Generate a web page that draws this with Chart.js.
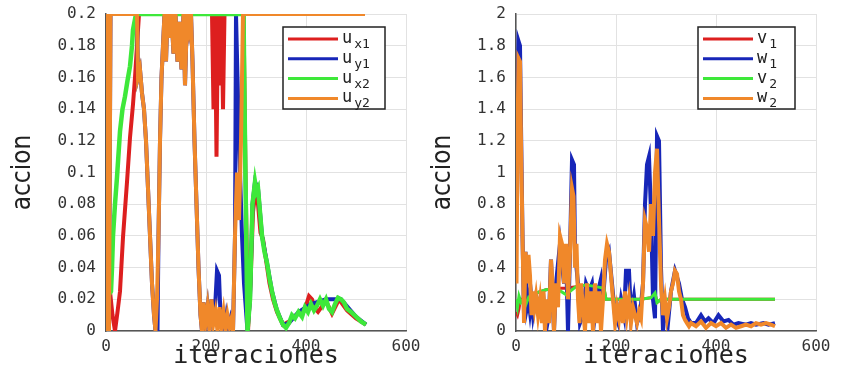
<!DOCTYPE html>
<html>
<head>
<meta charset="utf-8">
<script src="https://cdn.jsdelivr.net/npm/chart.js@4/dist/chart.umd.min.js"></script>
<style>
  body { margin: 0; background: #fff; }
  #wrapL { position: absolute; left: 0; top: 0; width: 420px; height: 379px; }
  #wrapR { position: absolute; left: 420px; top: 0; width: 421px; height: 379px; }
</style>
</head>
<body>
<div id="wrapL"><canvas id="cL" width="420" height="379"></canvas></div>
<div id="wrapR"><canvas id="cR" width="421" height="379"></canvas></div>
<script>
// tick values
const xTicks = [0, 200, 400, 600];
const leftYTicks = [0, 0.02, 0.04, 0.06, 0.08, 0.1, 0.12, 0.14, 0.16, 0.18, 0.2];
const rightYTicks = [0, 0.2, 0.4, 0.6, 0.8, 1, 1.2, 1.4, 1.6, 1.8, 2];

// left panel: u_x1, u_y1, u_x2, u_y2
const ux1X = [0, 8, 13, 18, 23, 28, 34, 42, 48, 54, 58, 62, 66, 212, 215, 218, 221, 224, 228, 231, 234, 237, 275, 279, 284, 289, 294, 299, 304, 309, 314, 320, 327, 334, 342, 354, 366, 380, 392, 400, 406, 412, 418, 424, 440, 452, 466, 482, 500, 520];
const ux1Y = [0.02, 0.025, 0.01, 0.0, 0.012, 0.025, 0.059, 0.094, 0.122, 0.143, 0.16, 0.18, 0.2, 0.2, 0.14, 0.2, 0.11, 0.2, 0.155, 0.2, 0.14, 0.2, 0.2, 0.1, 0.0, 0.03, 0.075, 0.088, 0.08, 0.062, 0.058, 0.045, 0.03, 0.02, 0.012, 0.004, 0.006, 0.01, 0.012, 0.016, 0.022, 0.02, 0.014, 0.012, 0.019, 0.011, 0.02, 0.013, 0.008, 0.004];

const uy1X = [0, 1, 3, 6, 9, 62, 64, 68, 72, 76, 80, 84, 88, 92, 96, 99, 103, 105, 108, 111, 114, 117, 120, 123, 127, 131, 135, 139, 143, 147, 151, 155, 158, 162, 166, 170, 173, 177, 181, 185, 189, 192, 195, 199, 203, 207, 211, 215, 219, 222, 226, 229, 233, 237, 241, 245, 249, 254, 258, 260, 263, 268, 272, 276, 283, 288, 293, 298, 304, 312, 322, 332, 342, 354, 366, 385, 410, 440, 470, 500, 520];
const uy1Y = [0.12, 0.2, 0.0, 0.0, 0.2, 0.2, 0.16, 0.165, 0.15, 0.14, 0.12, 0.09, 0.06, 0.03, 0.01, 0.0, 0.0, 0.06, 0.12, 0.16, 0.18, 0.2, 0.17, 0.2, 0.185, 0.2, 0.175, 0.2, 0.17, 0.195, 0.165, 0.2, 0.155, 0.2, 0.19, 0.2, 0.17, 0.12, 0.08, 0.04, 0.01, 0.0, 0.018, 0.005, 0.015, 0.0, 0.02, 0.005, 0.02, 0.038, 0.035, 0.01, 0.012, 0.0, 0.01, 0.003, 0.008, 0.0, 0.06, 0.2, 0.16, 0.1, 0.06, 0.03, 0.0, 0.02, 0.08, 0.094, 0.09, 0.06, 0.043, 0.025, 0.013, 0.004, 0.005, 0.012, 0.017, 0.02, 0.02, 0.009, 0.004];

const ux2X = [0, 10, 12, 14, 18, 22, 28, 33, 38, 43, 48, 52, 54, 60, 275, 278, 283, 288, 293, 298, 301, 304, 308, 312, 317, 322, 327, 332, 337, 342, 348, 354, 360, 366, 372, 378, 385, 392, 398, 404, 410, 416, 422, 428, 434, 440, 446, 452, 458, 464, 470, 476, 482, 490, 500, 510, 520];
const ux2Y = [0.02, 0.025, 0.04, 0.06, 0.08, 0.097, 0.126, 0.14, 0.148, 0.158, 0.167, 0.18, 0.19, 0.2, 0.2, 0.12, 0.0, 0.02, 0.08, 0.094, 0.088, 0.09, 0.075, 0.06, 0.05, 0.043, 0.033, 0.025, 0.018, 0.013, 0.008, 0.004, 0.002, 0.005, 0.01, 0.008, 0.012, 0.009, 0.015, 0.012, 0.017, 0.013, 0.016, 0.02, 0.016, 0.02, 0.014, 0.012, 0.017, 0.021, 0.02, 0.018, 0.014, 0.012, 0.009, 0.006, 0.004];

const uy2X = [0, 1, 3, 6, 9, 62, 64, 68, 72, 76, 80, 84, 88, 92, 96, 99, 102, 105, 108, 111, 114, 117, 120, 123, 127, 131, 135, 139, 143, 147, 151, 155, 158, 162, 166, 170, 173, 177, 181, 185, 189, 192, 195, 199, 203, 207, 211, 215, 219, 223, 227, 231, 235, 239, 243, 247, 251, 254, 258, 262, 266, 270, 274, 518];
const uy2Y = [0.12, 0.2, 0.0, 0.0, 0.2, 0.2, 0.16, 0.165, 0.15, 0.14, 0.12, 0.09, 0.06, 0.03, 0.01, 0.0, 0.02, 0.06, 0.12, 0.16, 0.18, 0.2, 0.17, 0.2, 0.185, 0.2, 0.175, 0.2, 0.17, 0.195, 0.165, 0.2, 0.155, 0.2, 0.19, 0.2, 0.17, 0.12, 0.08, 0.04, 0.01, 0.0, 0.018, 0.005, 0.015, 0.0, 0.02, 0.005, 0.012, 0.0, 0.015, 0.003, 0.012, 0.0, 0.01, 0.003, 0.008, 0.0, 0.06, 0.1, 0.07, 0.12, 0.2, 0.2];

// right panel: v_1, w_1, v_2, w_2
const v1X = [0, 3, 6, 9, 15, 20, 25, 30, 35, 40, 60, 80, 100, 120, 140, 160, 176, 180, 250, 270, 278, 282, 290, 518];
const v1Y = [0.12, 0.1, 0.14, 0.2, 0.2, 0.17, 0.21, 0.19, 0.22, 0.24, 0.26, 0.27, 0.27, 0.28, 0.29, 0.28, 0.27, 0.2, 0.2, 0.21, 0.24, 0.18, 0.2, 0.2];

const w1X = [0, 1, 3, 5, 8, 10, 13, 16, 19, 22, 25, 28, 31, 34, 40, 48, 55, 60, 66, 70, 76, 80, 88, 96, 100, 104, 108, 112, 116, 118, 124, 128, 134, 140, 146, 152, 158, 164, 170, 174, 180, 186, 192, 198, 204, 210, 216, 220, 226, 230, 236, 242, 248, 254, 258, 262, 266, 270, 274, 278, 282, 286, 290, 294, 298, 304, 310, 318, 326, 332, 338, 344, 350, 360, 370, 378, 385, 395, 405, 415, 425, 435, 445, 460, 470, 480, 495, 505, 518];
const w1Y = [1.4, 0.9, 1.5, 1.83, 1.8, 1.3, 0.6, 0.1, 0.5, 0.15, 0.2, 0.12, 0.2, 0.1, 0.22, 0.15, 0.2, 0.0, 0.1, 0.45, 0.0, 0.3, 0.55, 0.3, 0.5, 0.0, 0.5, 1.08, 1.05, 0.5, 0.3, 0.05, 0.1, 0.3, 0.25, 0.3, 0.1, 0.25, 0.33, 0.2, 0.45, 0.5, 0.3, 0.1, 0.05, 0.2, 0.1, 0.38, 0.38, 0.1, 0.22, 0.05, 0.1, 0.3, 0.8, 1.05, 1.1, 0.75, 0.2, 0.08, 1.23, 1.2, 0.4, 0.0, 0.15, 0.05, 0.25, 0.38, 0.3, 0.2, 0.15, 0.08, 0.05, 0.05, 0.1, 0.06, 0.08, 0.05, 0.1, 0.06, 0.07, 0.04, 0.05, 0.04, 0.05, 0.04, 0.05, 0.04, 0.05];

const v2X = [0, 3, 6, 10, 15, 20, 25, 30, 35, 40, 60, 80, 100, 120, 140, 160, 176, 180, 250, 270, 278, 282, 290, 518];
const v2Y = [0.2, 0.15, 0.22, 0.18, 0.2, 0.17, 0.21, 0.19, 0.22, 0.24, 0.26, 0.27, 0.23, 0.28, 0.29, 0.28, 0.27, 0.2, 0.2, 0.21, 0.24, 0.18, 0.2, 0.2];

const w2X = [0, 1, 3, 5, 8, 10, 13, 16, 19, 22, 25, 28, 31, 34, 37, 40, 44, 48, 52, 55, 58, 62, 66, 70, 73, 76, 80, 84, 88, 92, 96, 100, 104, 108, 112, 115, 118, 121, 124, 127, 130, 134, 138, 142, 146, 150, 154, 158, 162, 166, 170, 174, 178, 182, 186, 190, 194, 198, 202, 206, 210, 214, 218, 222, 226, 230, 234, 238, 242, 246, 250, 254, 258, 262, 266, 270, 274, 278, 282, 286, 290, 294, 298, 302, 306, 310, 314, 318, 322, 326, 330, 334, 338, 342, 346, 350, 360, 370, 380, 390, 400, 410, 420, 430, 440, 450, 460, 470, 480, 490, 500, 510, 518];
const w2Y = [0.95, 0.3, 1.2, 1.72, 1.7, 1.2, 0.6, 0.05, 0.5, 0.3, 0.48, 0.35, 0.1, 0.25, 0.15, 0.22, 0.1, 0.2, 0.05, 0.25, 0.0, 0.2, 0.05, 0.45, 0.3, 0.0, 0.3, 0.15, 0.6, 0.55, 0.3, 0.55, 0.2, 0.5, 0.9, 0.85, 0.4, 0.55, 0.2, 0.05, 0.3, 0.15, 0.0, 0.3, 0.05, 0.25, 0.0, 0.3, 0.05, 0.25, 0.0, 0.2, 0.45, 0.55, 0.5, 0.35, 0.2, 0.05, 0.15, 0.08, 0.2, 0.05, 0.25, 0.1, 0.2, 0.05, 0.15, 0.1, 0.05, 0.12, 0.08, 0.3, 0.7, 0.65, 0.5, 0.8, 0.6, 1.0, 1.15, 0.7, 0.3, 0.1, 0.2, 0.08, 0.15, 0.25, 0.3, 0.38, 0.36, 0.25, 0.2, 0.1, 0.07, 0.05, 0.03, 0.05, 0.03, 0.06, 0.02, 0.05, 0.03, 0.05, 0.02, 0.04, 0.02, 0.03, 0.04, 0.03, 0.05, 0.04, 0.05, 0.04, 0.03];

const RED = "#dd1f1f", BLUE = "#1726b8", GREEN = "#3ee83a", ORANGE = "#f0882a";
const monoFont = "'DejaVu Sans Mono', monospace";

function pts(xs, ys) {
  return xs.map((x, i) => ({ x: x, y: ys[i] }));
}

// later series drawn on top (like the original plot)
function ds(label, xs, ys, color, idx, width) {
  return {
    label: label,
    data: pts(xs, ys),
    borderColor: color,
    backgroundColor: color,
    borderWidth: width,
    pointRadius: 0,
    tension: 0,
    order: 10 - idx
  };
}

// legend with subscripts, drawn in a box
const subLegend = {
  id: "subLegend",
  afterDatasetsDraw(chart, args, opts) {
    const ctx = chart.ctx;
    ctx.save();
    ctx.fillStyle = "#fff";
    ctx.fillRect(opts.x, opts.y, opts.w, opts.h);
    ctx.strokeStyle = "#222";
    ctx.lineWidth = 1.5;
    ctx.strokeRect(opts.x, opts.y, opts.w, opts.h);
    chart.data.datasets.forEach((d, i) => {
      const yy = opts.y + 12 + i * 19.8;
      ctx.strokeStyle = d.borderColor;
      ctx.lineWidth = 3;
      ctx.beginPath();
      ctx.moveTo(opts.x + 5, yy);
      ctx.lineTo(opts.x + 55, yy);
      ctx.stroke();
      const parts = d.label.split("_");
      ctx.fillStyle = "#222";
      ctx.textBaseline = "alphabetic";
      ctx.font = "17px " + monoFont;
      ctx.fillText(parts[0], opts.x + 59, yy + 4);
      const w = ctx.measureText(parts[0]).width;
      ctx.font = "13px " + monoFont;
      ctx.fillText(parts[1], opts.x + 61 + w, yy + 9);
    });
    ctx.restore();
  }
};

function makeChart(id, datasets, yMax, yTicks, axisW, padRight, legendBox) {
  return new Chart(document.getElementById(id), {
    type: "line",
    data: { datasets: datasets },
    plugins: [subLegend],
    options: {
      responsive: false,
      animation: false,
      layout: { padding: { top: 14, right: padRight, left: 0, bottom: 0 } },
      plugins: {
        legend: { display: false },
        tooltip: { enabled: false },
        subLegend: legendBox
      },
      scales: {
        x: {
          type: "linear",
          min: 0, max: 600,
          afterBuildTicks: s => { s.ticks = xTicks.map(v => ({ value: v })); },
          afterFit: s => { s.height = 48; s.paddingLeft = 0; s.paddingRight = 0; },
          grid: { color: "#e2e2e2", drawTicks: false },
          border: { color: "#555", width: 1.5 },
          ticks: { color: "#333", padding: 6, font: { family: monoFont, size: 16 }, callback: v => String(v) },
          title: { display: true, text: "iteraciones", color: "#222", padding: { top: 0, bottom: 8 }, font: { family: monoFont, size: 25 } }
        },
        y: {
          min: 0, max: yMax,
          afterBuildTicks: s => { s.ticks = yTicks.map(v => ({ value: v })); },
          afterFit: s => { s.width = axisW; s.paddingTop = 0; s.paddingBottom = 0; },
          grid: { color: "#e2e2e2", drawTicks: false },
          border: { color: "#555", width: 1.5 },
          ticks: { color: "#333", padding: 10, font: { family: monoFont, size: 16 }, callback: v => String(v) },
          title: { display: true, text: "accion", color: "#222", padding: { top: 8, bottom: 4 }, font: { family: "'DejaVu Sans Condensed', 'Liberation Sans Narrow', sans-serif", size: 26 } }
        }
      }
    }
  });
}

makeChart("cL", [
  ds("u_x1", ux1X, ux1Y, RED, 0, 4),
  ds("u_y1", uy1X, uy1Y, BLUE, 1, 4),
  ds("u_x2", ux2X, ux2Y, GREEN, 2, 4.5),
  ds("u_y2", uy2X, uy2Y, ORANGE, 3, 4)
], 0.2, leftYTicks, 106, 14, { x: 283, y: 27, w: 102, h: 82 });

makeChart("cR", [
  ds("v_1", v1X, v1Y, RED, 0, 3),
  ds("w_1", w1X, w1Y, BLUE, 1, 4),
  ds("v_2", v2X, v2Y, GREEN, 2, 3),
  ds("w_2", w2X, w2Y, ORANGE, 3, 4)
], 2, rightYTicks, 96, 25, { x: 278, y: 27, w: 97, h: 82 });
</script>
</body>
</html>
